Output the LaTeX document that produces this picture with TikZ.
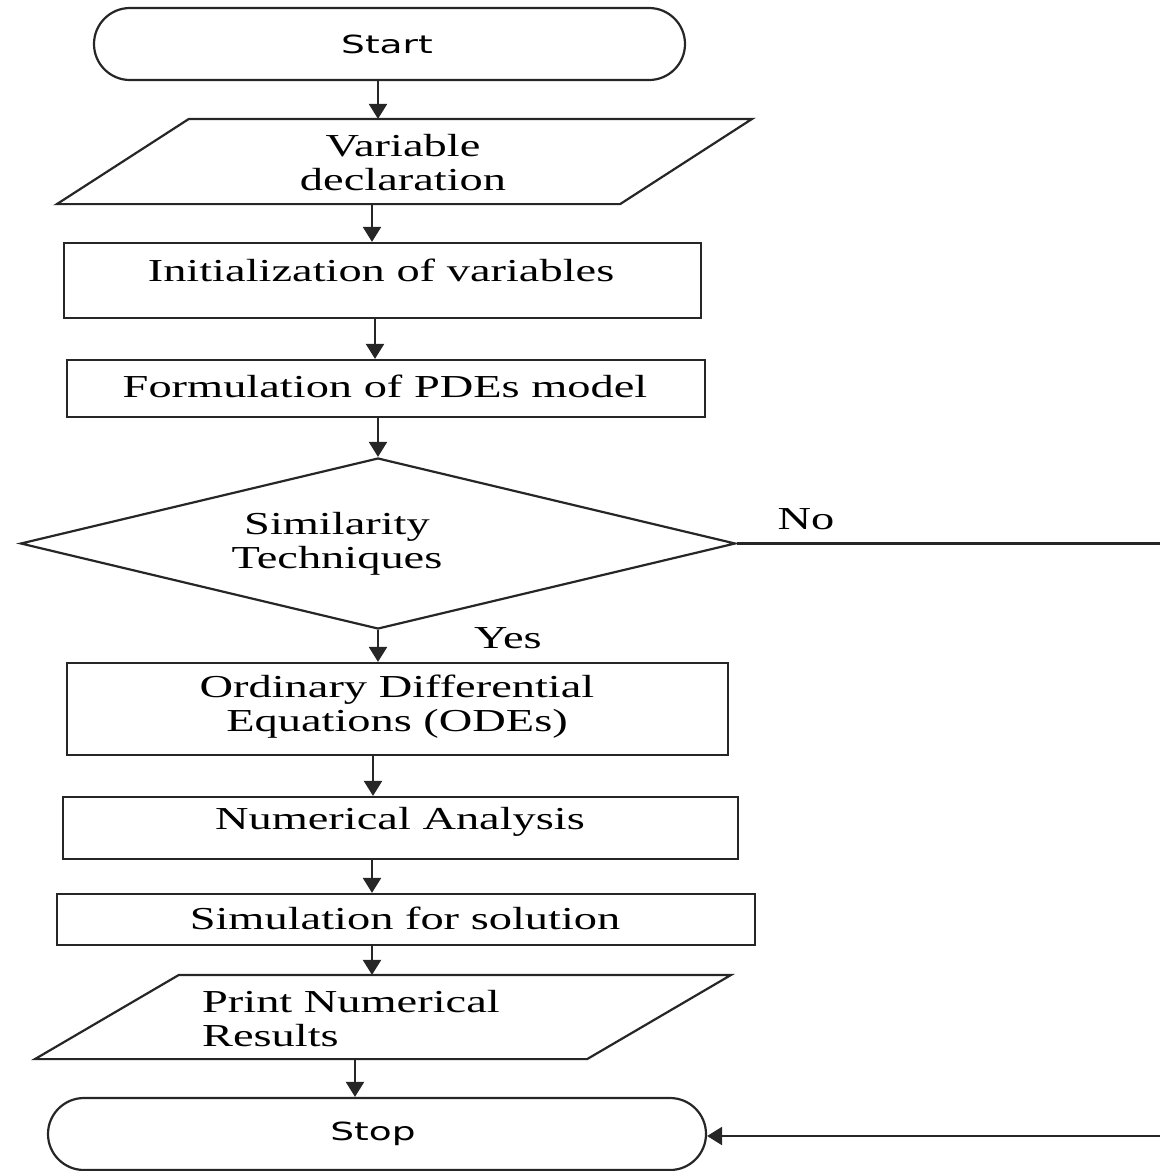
\documentclass[tikz,border=0pt]{standalone}
\usepackage{fontspec}
\setmainfont{Liberation Serif}[FakeStretch=1.45]
\newfontfamily\sansstretch{DejaVu Sans}[FakeStretch=1.5]
\usetikzlibrary{shapes.geometric,shapes.misc,arrows.meta}
\begin{document}
\begin{tikzpicture}[x=1pt,y=-1pt,
  line width=2.2pt, draw=black!85,
  box/.style={draw, rectangle, inner sep=0pt},
  term/.style={draw, rounded rectangle, inner sep=0pt},
  iobase/.style={rectangle, inner sep=0pt},
  dec/.style={draw, diamond, inner sep=0pt},
  txt/.style={font=\fontsize{32}{34}\selectfont, inner sep=0pt, align=center},
  stxt/.style={font=\sansstretch\fontsize{25}{30}\selectfont, inner sep=0pt},
  arr/.style={-{Triangle[length=15pt,width=18pt]}}
]
\useasboundingbox (0,0) rectangle (1160,1171);
% shapes
\node[term, minimum width=591, minimum height=72] (start) at (389.5,44) {};
\node[iobase, minimum width=561, minimum height=83] (var) at (404.5,161.5) {};
\draw[line join=miter] ([xshift=-66]var.south west) -- ([xshift=66]var.north west) -- ([xshift=66]var.north east) -- ([xshift=-66]var.south east) -- cycle;
\node[box, minimum width=637, minimum height=75] (init) at (382.5,280.5) {};
\node[box, minimum width=638, minimum height=57] (form) at (386,388.5) {};
\node[dec, minimum width=715, minimum height=171] (dia) at (378,543.5) {};
\node[box, minimum width=661, minimum height=92] (odes) at (397.5,709) {};
\node[box, minimum width=675, minimum height=62] (num) at (400.5,828) {};
\node[box, minimum width=698, minimum height=51] (sim) at (406,919.5) {};
\node[iobase, minimum width=550, minimum height=82] (print) at (383,1017) {};
\draw[line join=miter] ([xshift=-72]print.south west) -- ([xshift=72]print.north west) -- ([xshift=72]print.north east) -- ([xshift=-72]print.south east) -- cycle;
\node[term, minimum width=658, minimum height=72] (stop) at (377,1134) {};
% texts
\node[stxt] (tstart) at (387,44) {Start};
\node[txt] (tvar) at (403,163) {Variable\\declaration};
\node[txt] (tinit) at (381,270) {Initialization of variables};
\node[txt] (tform) at (385,386) {Formulation of PDEs model};
\node[txt] (tdia) at (337,544) {Similarity\\Techniques};
\node[txt] (tno) at (806,519) {No};
\node[txt] (tyes) at (508,638) {Yes};
\node[txt] (todes) at (397,707) {Ordinary Differential\\Equations (ODEs)};
\node[txt] (tnum) at (400,822) {Numerical Analysis};
\node[txt] (tsim) at (405,918) {Simulation for solution};
\node[txt, align=left, anchor=west] (tprint) at (201,1019) {Print Numerical\\Results};
\node[stxt] (tstop) at (373,1134) {Stop};
% connectors
\coordinate (noend) at (1160,543.5);
\coordinate (backin) at (1160,1136);
\draw[arr] (start.south -| 378,0) -- (var.north -| 378,0);
\draw[arr] (var.south -| 372,0) -- (init.north -| 372,0);
\draw[arr] (init.south -| 375,0) -- (form.north -| 375,0);
\draw[arr] (form.south -| dia.north) -- (dia.north);
\draw[arr] (dia.south) -- (odes.north -| dia.south);
\draw[arr] (odes.south -| 373,0) -- (num.north -| 373,0);
\draw[arr] (num.south -| 372,0) -- (sim.north -| 372,0);
\draw[arr] (sim.south -| 372,0) -- (print.north -| 372,0);
\draw[arr] (print.south -| 355,0) -- (stop.north -| 355,0);
\draw (dia.east) -- (noend);
\draw[arr] (backin) -- (stop.east |- backin);
\end{tikzpicture}
\end{document}
